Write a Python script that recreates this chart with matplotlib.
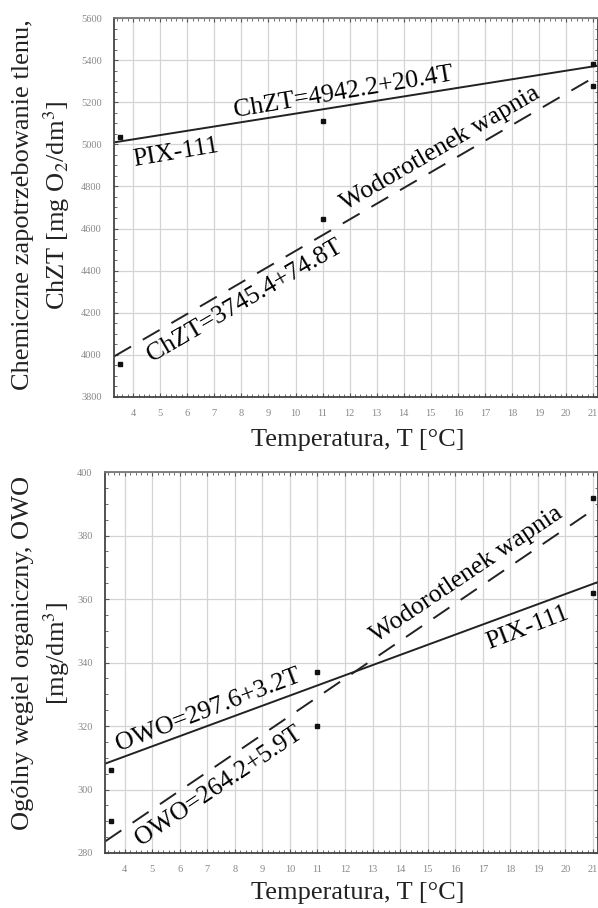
import matplotlib
matplotlib.use("Agg")
import matplotlib.pyplot as plt
import numpy as np
from matplotlib.ticker import MultipleLocator, AutoMinorLocator

plt.rcParams['font.family'] = ['Liberation Serif', 'DejaVu Serif']
plt.rcParams['mathtext.fontset'] = 'stix'

# dane pomiarowe
temp = [3.5, 11, 21]
chzt_pix = [5035, 5112, 5382]
chzt_wod = [3955, 4645, 5278]
owo_pix = [306, 337, 362]
owo_wod = [290, 320, 392]

# rownania regresji (wyraz wolny, wspolczynnik)
chzt_pix_fit = (4942.2, 20.4)
chzt_wod_fit = (3745.4, 74.8)
owo_pix_fit = (297.6, 3.2)
owo_wod_fit = (264.2, 5.9)

xticks = list(range(4, 22))
xlim = (3.3, 21.18)

fig = plt.figure(figsize=(5.98, 9.08), dpi=100)
ax1 = fig.add_axes([0.191, 0.563, 0.809, 0.417])
ax2 = fig.add_axes([0.176, 0.0606, 0.824, 0.4194])

def style_axis(ax, ylim, ystep, yminor):
    ax.set_xlim(xlim)
    ax.set_ylim(ylim)
    ax.set_xticks(xticks)
    ax.yaxis.set_major_locator(MultipleLocator(ystep))
    ax.xaxis.set_minor_locator(AutoMinorLocator(5))
    ax.yaxis.set_minor_locator(AutoMinorLocator(yminor))
    ax.grid(True, which='major', color='#d4d4d4', lw=0.9)
    ax.set_axisbelow(True)
    ax.tick_params(which='both', direction='in', top=True, right=True,
                   colors='#555555', labelcolor='#888888', labelsize=7.5)
    ax.tick_params(which='major', length=3, pad=9)
    ax.tick_params(which='minor', length=2)
    for s in ax.spines.values():
        s.set_color('#444444')
        s.set_linewidth(1.3)
    ax.spines['top'].set_color('#777777')

# --- wykres ChZT ---
style_axis(ax1, (3800, 5600), 200, 4)
xx = np.array(xlim)
ax1.plot(xx, chzt_pix_fit[0] + chzt_pix_fit[1] * xx, color='#222222', lw=1.4)
l, = ax1.plot(xx, chzt_wod_fit[0] + chzt_wod_fit[1] * xx, color='#222222', lw=1.4)
l.set_dashes((10, 7))
ax1.plot(temp, chzt_pix, 's', color='#111111', ms=3.5)
ax1.plot(temp, chzt_wod, 's', color='#111111', ms=3.5)

ax1.text(11.76, 5245, 'ChZT=4942.2+20.4T', rotation=9.6, fontsize=18.5,
         ha='center', va='center', rotation_mode='anchor')
ax1.text(5.59, 4960, 'PIX-111', rotation=9.6, fontsize=18.5,
         ha='center', va='center', rotation_mode='anchor')
ax1.text(15.35, 4979, 'Wodorotlenek wapnia', rotation=30.2, fontsize=18.5,
         ha='center', va='center', rotation_mode='anchor')
ax1.text(8.14, 4254, 'ChZT=3745.4+74.8T', rotation=30.2, fontsize=18.5,
         ha='center', va='center', rotation_mode='anchor')

# --- wykres OWO ---
style_axis(ax2, (280, 400), 20, 4)
ax2.plot(xx, owo_pix_fit[0] + owo_pix_fit[1] * xx, color='#222222', lw=1.4)
l, = ax2.plot(xx, owo_wod_fit[0] + owo_wod_fit[1] * xx, color='#222222', lw=1.4)
l.set_dashes((10, 7))
ax2.plot(temp, owo_pix, 's', color='#111111', ms=3.5)
ax2.plot(temp, owo_wod, 's', color='#111111', ms=3.5)

ax2.text(7.04, 325, 'OWO=297.6+3.2T', rotation=21, fontsize=18.5,
         ha='center', va='center', rotation_mode='anchor')
ax2.text(7.44, 301.1, 'OWO=264.2+5.9T', rotation=34, fontsize=18.5,
         ha='center', va='center', rotation_mode='anchor')
ax2.text(16.43, 367.6, 'Wodorotlenek wapnia', rotation=34, fontsize=18.5,
         ha='center', va='center', rotation_mode='anchor')
ax2.text(18.64, 351, 'PIX-111', rotation=21, fontsize=18.5,
         ha='center', va='center', rotation_mode='anchor')

# opisy osi
fig.text(358 / 598, 1 - 440 / 908, 'Temperatura, T [°C]', fontsize=19,
         ha='center', va='center', color='#222222')
fig.text(358 / 598, 1 - 893 / 908, 'Temperatura, T [°C]', fontsize=19,
         ha='center', va='center', color='#222222')
fig.text(42 / 598, 1 - 205 / 908,
         'Chemiczne zapotrzebowanie tlenu,\nChZT [mg O$_2$/dm$^3$]',
         fontsize=19, rotation=90, ha='center', va='center',
         multialignment='center', linespacing=1.35, color='#222222')
fig.text(42 / 598, 1 - 653 / 908,
         'Ogólny węgiel organiczny, OWO\n[mg/dm$^3$]',
         fontsize=19, rotation=90, ha='center', va='center',
         multialignment='center', linespacing=1.35, color='#222222')

fig.savefig('out.png', dpi=100)
